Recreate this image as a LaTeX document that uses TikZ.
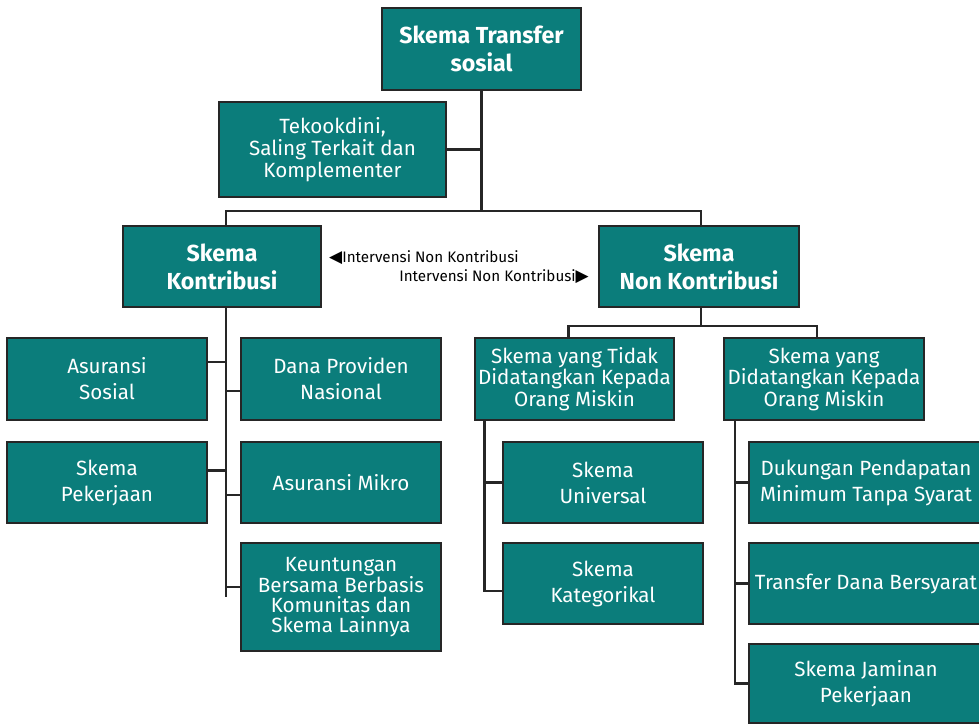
\documentclass[tikz,border=0pt]{standalone}
\usepackage{fontspec}
\setmainfont{Fira Sans}
\newfontfamily\symfont{DejaVu Sans}
\usepackage{xcolor}
\usetikzlibrary{positioning,calc}

\definecolor{tealbox}{HTML}{0B7D7B}
\definecolor{edge}{HTML}{262626}

\tikzset{
  box/.style={rectangle, draw=edge, line width=2.6pt, fill=tealbox, text=white,
    align=center, inner sep=0pt, font=\fontsize{20.6}{26}\selectfont},
  headbox/.style={box, font=\fontsize{23.2}{28}\selectfont\bfseries},
  link/.style={draw=edge, line width=2.6pt},
  note/.style={font=\fontsize{15.2}{16}\selectfont, inner sep=0pt}
}

\begin{document}
\begin{tikzpicture}[x=1pt, y=-1pt]
\useasboundingbox (0,0) rectangle (979,725);

% Top level
\node[headbox, minimum width=199, minimum height=82] (top) at (481.5,49) {Skema Transfer\\sosial};
\node[box, minimum width=227, minimum height=95, font=\fontsize{20.6}{22}\selectfont] (tek) at (332.5,149.5) {Tekookdini,\\Saling Terkait dan\\Komplementer};

% Two main schemes
\node[headbox, minimum width=198, minimum height=81] (ks) at (222,266.5) {Skema\\Kontribusi};
\node[headbox, minimum width=200, minimum height=81] (nk) at (699,266.5) {Skema\\Non Kontribusi};

\node[note, anchor=west] (lblL) at (329,258) {{\symfont\fontsize{17}{16}\selectfont ◀}Intervensi Non Kontribusi};
\node[note, anchor=east] (lblR) at (589,277) {Intervensi Non Kontribusi{\symfont\fontsize{17}{16}\selectfont ▶}};

% Contributory branch
\node[box, minimum width=200, minimum height=82] (as) at (107,379) {Asuransi\\Sosial};
\node[box, minimum width=200, minimum height=81] (sp) at (107,482.5) {Skema\\Pekerjaan};
\node[box, minimum width=200, minimum height=82] (dp) at (341,379) {Dana Providen\\Nasional};
\node[box, minimum width=200, minimum height=81] (am) at (341,482.5) {Asuransi Mikro};
\node[box, minimum width=200, minimum height=108, font=\fontsize{20.6}{20}\selectfont] (kb) at (341,597) {Keuntungan\\Bersama Berbasis\\Komunitas dan\\Skema Lainnya};

% Non-contributory branch
\node[box, minimum width=199, minimum height=82, font=\fontsize{20.6}{21.5}\selectfont] (tm) at (574.5,379) {Skema yang Tidak\\Didatangkan Kepada\\Orang Miskin};
\node[box, minimum width=200, minimum height=82, font=\fontsize{20.6}{21.5}\selectfont] (dm) at (824,379) {Skema yang\\Didatangkan Kepada\\Orang Miskin};
\node[box, minimum width=200, minimum height=81] (su) at (603,482.5) {Skema\\Universal};
\node[box, minimum width=200, minimum height=81] (sk) at (603,583.5) {Skema\\Kategorikal};
\node[box, minimum width=234, minimum height=81] (dt) at (866,482.5) {Dukungan Pendapatan\\Minimum Tanpa Syarat};
\node[box, minimum width=234, minimum height=81] (td) at (866,583.5) {Transfer Dana Bersyarat};
\node[box, minimum width=234, minimum height=79] (jp) at (866,683.5) {Skema Jaminan\\Pekerjaan};

% Connectors
\coordinate (j1) at (top.south |- 0,211);
\draw[link] (top.south) -- (j1);
\draw[link] (tek.east) -- (tek.east -| j1);
\draw[link] ([xshift=4]ks.north) |- (j1) -| ([xshift=2]nk.north);

\coordinate (kspine) at ([xshift=4]ks.south);
\draw[link] (kspine) -- (kspine |- kb.west);
\draw[link] ([yshift=17]as.east) -- ([yshift=17]as.east -| kspine);
\draw[link] ([yshift=12]sp.east) -- ([yshift=12]sp.east -| kspine);
\draw[link] ([yshift=-12]dp.west) -- ([yshift=-12]dp.west -| kspine);
\draw[link] ([yshift=-12.5]am.west) -- ([yshift=-12.5]am.west -| kspine);
\draw[link] ([yshift=10]kb.west) -- ([yshift=10]kb.west -| kspine);

\coordinate (j2) at ([xshift=2]nk.south |- 0,326);
\draw[link] ([xshift=2]nk.south) -- (j2);
\draw[link] ([xshift=-6]tm.north) |- (j2) -| ([xshift=-7]dm.north);

\coordinate (tspine) at ([xshift=-90]tm.south);
\draw[link] (tspine) |- ([yshift=-7.5]sk.west);
\draw[link] (su.west) -- (su.west -| tspine);

\coordinate (dspine) at ([xshift=-89]dm.south);
\draw[link] (dspine) |- (jp.west);
\draw[link] (dt.west) -- (dt.west -| dspine);
\draw[link] (td.west) -- (td.west -| dspine);

\end{tikzpicture}
\end{document}
